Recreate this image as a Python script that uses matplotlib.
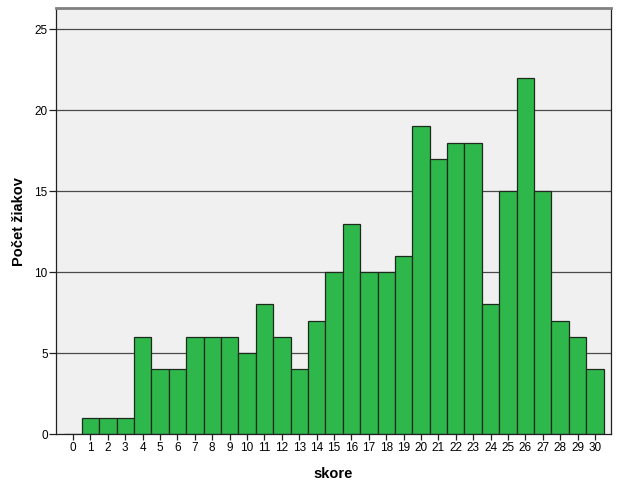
import matplotlib
matplotlib.use("Agg")
import matplotlib.pyplot as plt

scores = list(range(0, 31))
counts = [0, 1, 1, 1, 6, 4, 4, 6, 6, 6, 5, 8, 6, 4, 7, 10, 13, 10, 10, 11,
          19, 17, 18, 18, 8, 15, 22, 15, 7, 6, 4]
yticks = [0, 5, 10, 15, 20, 25]

plt.rcParams['font.family'] = ['Liberation Sans', 'DejaVu Sans']

fig = plt.figure(figsize=(6.26, 4.83), dpi=100)
ax = fig.add_axes([0.0895, 0.1014, 0.976 - 0.0895, 0.983 - 0.1014])
ax.set_facecolor('#F0F0F0')

for y in yticks[1:]:
    ax.axhline(y, color='#4a4a4a', lw=0.9, zorder=1)

ax.bar(scores, counts, width=1.0, color='#2EB84B', edgecolor='#1f2a1f', lw=0.9, zorder=2)

ax.set_xlim(-0.98, 30.92)
ax.set_ylim(0, 26.3)
ax.set_xticks(scores)
ax.set_xticklabels([str(s) for s in scores], fontsize=8.5)
ax.set_yticks(yticks)
ax.set_yticklabels([str(y) for y in yticks], fontsize=8.5)
ax.tick_params(axis='x', length=4, width=0.9, color='#222222', pad=2)
ax.tick_params(axis='y', length=5, width=0.9, color='#222222', pad=1)

for s in ['left', 'bottom']:
    ax.spines[s].set_color('#222222')
    ax.spines[s].set_linewidth(0.9)
ax.spines['right'].set_color('#222222')
ax.spines['right'].set_linewidth(0.9)
ax.spines['top'].set_color('#808080')
ax.spines['top'].set_linewidth(2)

ax.set_xlabel('skore', fontsize=10.5, fontweight='bold', labelpad=9)
ax.set_ylabel('Počet žiakov', fontsize=10.5, fontweight='bold', labelpad=6)

fig.savefig('out.png', dpi=100)
